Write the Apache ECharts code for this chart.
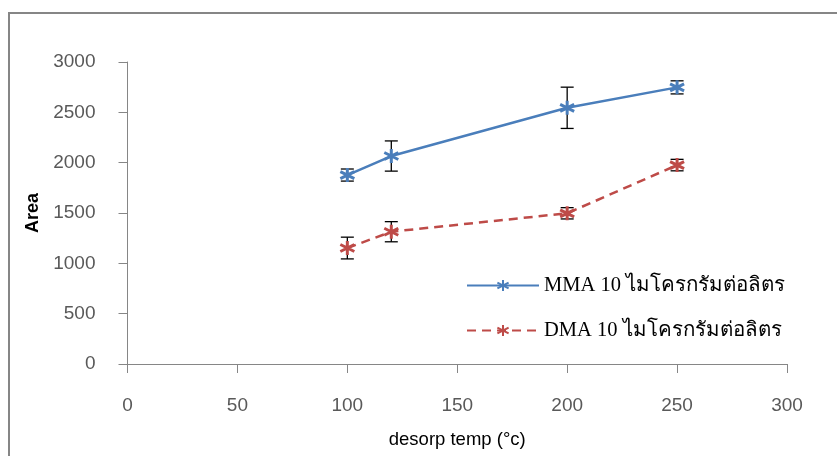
<!DOCTYPE html>
<html>
<head>
<meta charset="utf-8">
<script src="https://cdn.jsdelivr.net/npm/echarts@6/dist/echarts.min.js"></script>
<style>
html,body{margin:0;padding:0;background:#fff;}
#chart{width:837px;height:456px;}
</style>
</head>
<body>
<div id="chart"></div>
<script>
// ---- data ----
var xValues = [100, 120, 200, 250];
var mmaName = 'MMA 10 ไมโครกรัมต่อลิตร';
var dmaName = 'DMA 10 ไมโครกรัมต่อลิตร';
var mmaValues = [1877, 2066, 2545, 2748];
var mmaErrors = [60, 150, 205, 65];
var dmaValues = [1152, 1314, 1497, 1976];
var dmaErrors = [108, 100, 56, 57];
var xAxisTitle = 'desorp temp (°c)';
var yAxisTitle = 'Area';

var blue = '#4A7EBB';
var red = '#BE4B48';
var axisColor = '#868686';
var asterisk = 'path://M0,-10L0,10M-8.66,-5L8.66,5M-8.66,5L8.66,-5';

function pairs(xs, ys) {
  return xs.map(function (x, i) { return [x, ys[i]]; });
}
function errData(xs, ys, es) {
  return xs.map(function (x, i) { return [x, ys[i] - es[i], ys[i] + es[i]]; });
}
function errSeries(data) {
  return {
    type: 'custom',
    silent: true,
    z: 3,
    data: data,
    renderItem: function (params, api) {
      var x = api.value(0);
      var lo = api.coord([x, api.value(1)]);
      var hi = api.coord([x, api.value(2)]);
      var hw = 6.5;
      var st = { stroke: '#000', lineWidth: 1.3 };
      return {
        type: 'group',
        children: [
          { type: 'line', shape: { x1: lo[0], y1: lo[1], x2: hi[0], y2: hi[1] }, style: st },
          { type: 'line', shape: { x1: lo[0] - hw, y1: lo[1], x2: lo[0] + hw, y2: lo[1] }, style: st },
          { type: 'line', shape: { x1: hi[0] - hw, y1: hi[1], x2: hi[0] + hw, y2: hi[1] }, style: st }
        ]
      };
    }
  };
}

var chart = echarts.init(document.getElementById('chart'), null, { renderer: 'canvas' });
chart.setOption({
  backgroundColor: '#fff',
  animation: false,
  graphic: [{
    type: 'rect',
    shape: { x: 9, y: 13, width: 850, height: 470 },
    style: { fill: 'none', stroke: axisColor, lineWidth: 2 },
    silent: true
  }],
  grid: { left: 127.5, right: 50, top: 62, bottom: 92, containLabel: false },
  legend: {
    orient: 'vertical',
    left: 461,
    top: 270,
    itemWidth: 72,
    itemHeight: 14,
    itemGap: 24,
    textStyle: { fontFamily: 'Liberation Serif, DejaVu Serif, serif', fontSize: 20.5, color: '#000', lineHeight: 20 },
    data: [mmaName, dmaName]
  },
  xAxis: {
    type: 'value',
    min: 0, max: 300, interval: 50,
    name: xAxisTitle,
    nameLocation: 'middle',
    nameGap: 66,
    nameTextStyle: { fontFamily: 'Liberation Sans, Arial, sans-serif', fontSize: 18.5, color: '#000' },
    axisLine: { show: true, onZero: false, lineStyle: { color: axisColor, width: 1 } },
    axisTick: { show: true, inside: false, length: 9, lineStyle: { color: axisColor } },
    axisLabel: { margin: 32, fontFamily: 'Liberation Sans, Arial, sans-serif', fontSize: 19, color: '#595959' },
    splitLine: { show: false }
  },
  yAxis: {
    type: 'value',
    min: 0, max: 3000, interval: 500,
    name: yAxisTitle,
    nameLocation: 'middle',
    nameGap: 80,
    nameRotate: 90,
    nameTextStyle: { fontFamily: 'Liberation Sans, Arial, sans-serif', fontSize: 18, fontWeight: 'bold', color: '#000' },
    axisLine: { show: true, lineStyle: { color: axisColor, width: 1 } },
    axisTick: { show: true, inside: false, length: 9, lineStyle: { color: axisColor } },
    axisLabel: {
      margin: 32, fontFamily: 'Liberation Sans, Arial, sans-serif', fontSize: 19, color: '#595959',
      formatter: function (v) { return String(v); }
    },
    splitLine: { show: false }
  },
  series: [
    {
      name: mmaName,
      type: 'line',
      data: pairs(xValues, mmaValues),
      symbol: asterisk,
      symbolSize: 14,
      lineStyle: { color: blue, width: 2.5, type: 'solid' },
      itemStyle: { color: blue, borderColor: blue, borderWidth: 3 },
      z: 4
    },
    {
      name: dmaName,
      type: 'line',
      data: pairs(xValues, dmaValues),
      symbol: asterisk,
      symbolSize: 14,
      lineStyle: { color: red, width: 2.5, type: [9, 6] },
      itemStyle: { color: red, borderColor: red, borderWidth: 3 },
      z: 4
    },
    errSeries(errData(xValues, mmaValues, mmaErrors)),
    errSeries(errData(xValues, dmaValues, dmaErrors))
  ]
});
</script>
</body>
</html>
